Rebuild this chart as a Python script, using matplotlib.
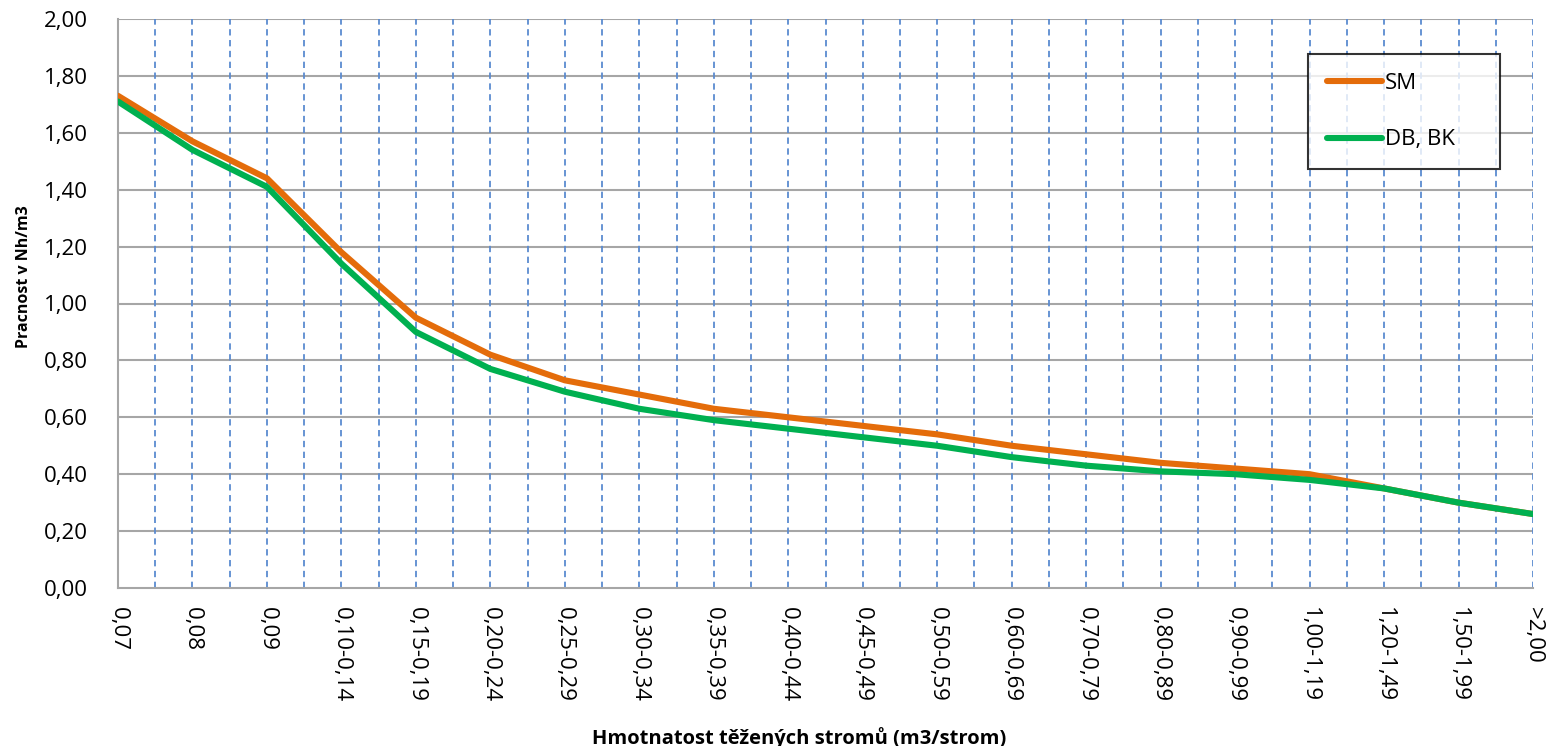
import matplotlib
matplotlib.use("Agg")
import matplotlib.pyplot as plt
import numpy as np

categories = ["0,07", "0,08", "0,09", "0,10-0,14", "0,15-0,19", "0,20-0,24",
              "0,25-0,29", "0,30-0,34", "0,35-0,39", "0,40-0,44", "0,45-0,49",
              "0,50-0,59", "0,60-0,69", "0,70-0,79", "0,80-0,89", "0,90-0,99",
              "1,00-1,19", "1,20-1,49", "1,50-1,99", ">2,00"]
sm = [1.73, 1.57, 1.44, 1.18, 0.95, 0.82, 0.73, 0.68, 0.63, 0.60,
      0.57, 0.54, 0.50, 0.47, 0.44, 0.42, 0.40, 0.35, 0.30, 0.26]
db_bk = [1.71, 1.54, 1.41, 1.14, 0.90, 0.77, 0.69, 0.63, 0.59, 0.56,
         0.53, 0.50, 0.46, 0.43, 0.41, 0.40, 0.38, 0.35, 0.30, 0.26]
yticks = [0.0, 0.2, 0.4, 0.6, 0.8, 1.0, 1.2, 1.4, 1.6, 1.8, 2.0]

plt.rcParams['font.family'] = ['Open Sans', 'DejaVu Sans']

fig = plt.figure(figsize=(15.49, 7.46), dpi=100)
ax = fig.add_axes([118 / 1549, 1 - 588 / 746, 1415 / 1549, 569 / 746])

x = np.arange(len(categories))
ax.plot(x, sm, color="#E46C0A", lw=4.4, label="SM", solid_capstyle="round", zorder=3)
ax.plot(x, db_bk, color="#00B050", lw=4.4, label="DB, BK", solid_capstyle="round", zorder=4)

ax.set_xlim(0, len(categories) - 1)
ax.set_ylim(0, 2)
ax.set_xticks(x)
ax.set_xticklabels(categories, rotation=270, fontsize=16)
ax.set_yticks(yticks)
ax.set_yticklabels([("%.2f" % v).replace(".", ",") for v in yticks], fontsize=16)
ax.tick_params(axis="x", length=0, pad=14)
ax.tick_params(axis="y", length=0, pad=22)

for yv in yticks[1:]:
    ax.axhline(yv, color="#A6A6A6", lw=1.5, zorder=1)
for xv in np.arange(0.5, len(categories) - 0.4, 0.5):
    ax.axvline(xv, color="#5B8BD0", lw=1.3, ls=(0, (3.5, 2.5)), zorder=1)

for s in ["top", "right"]:
    ax.spines[s].set_visible(False)
ax.spines["left"].set_color("#A6A6A6")
ax.spines["bottom"].set_color("#A6A6A6")
ax.spines["left"].set_linewidth(1.5)
ax.spines["bottom"].set_linewidth(1.5)

ax.set_ylabel("Pracnost v Nh/m3", fontsize=11.5, fontweight="bold")
ax.yaxis.set_label_coords(-(118 - 24) / 1415, (588 - 277) / 569)
ax.set_xlabel("Hmotnatost těžených stromů (m3/strom)", fontsize=14.5, fontweight="bold")
ax.xaxis.set_label_coords((799 - 118) / 1415, -(738 - 588) / 569)
ax.xaxis.label.set_va("center")
ax.yaxis.label.set_va("center")

leg = ax.legend(loc="upper left", bbox_to_anchor=(0.841, 0.7385, 0.1357, 0.2), mode="expand",
                fontsize=16, frameon=True, fancybox=False, edgecolor="black",
                handlelength=2.5, handletextpad=0.1, labelspacing=1.6, borderpad=0.85,
                borderaxespad=0)
leg.get_frame().set_linewidth(1.5)
leg.set_zorder(5)

fig.savefig("out.png", dpi=100, facecolor="white")
